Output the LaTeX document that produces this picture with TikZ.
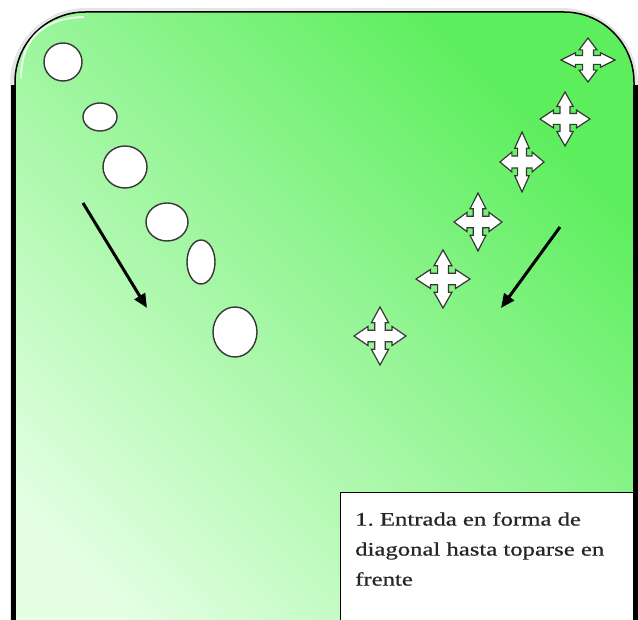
\documentclass[tikz,border=0pt]{standalone}
\usepackage{fontspec}
\setmainfont{Liberation Serif}
\newfontfamily\letra{Liberation Serif}[FakeBold=0.6]
\usetikzlibrary{arrows.meta}

\definecolor{verdeFuerte}{RGB}{92,238,92}
\definecolor{verdeClaro}{RGB}{228,255,228}
\definecolor{bordeGris}{RGB}{55,55,55}

\tikzset{
  jugador/.style={draw=bordeGris, line width=1.4pt, fill=white},
  flecha/.style={line width=3pt, -{Triangle[length=14pt,width=12pt]}},
  texto/.style={anchor=north west, inner sep=0pt, align=left, text=black!85,
    font=\letra\fontsize{19}{30}\selectfont\frenchspacing, xscale=1.3, transform shape},
  cruz/.pic={
    \draw[draw=bordeGris, line width=1.2pt, fill=white, line join=miter]
      (0.2,0.2) -- (0.2,0.46) -- (0.33,0.46) -- (0,1) -- (-0.33,0.46) -- (-0.2,0.46)
      -- (-0.2,0.2) -- (-0.46,0.2) -- (-0.46,0.33) -- (-1,0) -- (-0.46,-0.33) -- (-0.46,-0.2)
      -- (-0.2,-0.2) -- (-0.2,-0.46) -- (-0.33,-0.46) -- (0,-1) -- (0.33,-0.46) -- (0.2,-0.46)
      -- (0.2,-0.2) -- (0.46,-0.2) -- (0.46,-0.33) -- (1,0) -- (0.46,0.33) -- (0.46,0.2) -- cycle;
  }
}

\begin{document}
\begin{tikzpicture}[x=1pt, y=-1pt]

\useasboundingbox (0,0) rectangle (638,620);

% marco
\draw[line width=8pt, black!10, rounded corners=72pt] (14,700) -- (14,12) -- (634,12) -- (634,700);
\shade[top color=verdeFuerte, bottom color=verdeClaro, shading angle=-45, rounded corners=70pt]
  (15,700) -- (15,12) -- (634,12) -- (634,700) -- cycle;
\draw[line width=1.5pt, rounded corners=70pt] (15,700) -- (15,12) -- (634,12) -- (634,700);
\draw[white, line width=2pt, opacity=0.8] (21,78) .. controls (21,40) and (42,18) .. (84,17);

% cuadro de texto
\draw[fill=white, line width=1pt] (340,493) rectangle (633,640);
\node[texto] (nota) at (355,512) {1. Entrada en forma de\\diagonal hasta toparse en\\frente};

\draw[line width=5pt] (13.5,85) -- (13.5,620);
\draw[line width=5pt] (635.5,85) -- (635.5,620);

% jugadores
\draw[jugador] (63,62) ellipse (19 and 19);
\draw[jugador] (100,117) ellipse (17 and 14);
\draw[jugador] (125,167) ellipse (22 and 21);
\draw[jugador] (167,222) ellipse (21 and 19);
\draw[jugador] (201,262) ellipse (14 and 22);
\draw[jugador] (235,332) ellipse (22 and 25);

\pic[xscale=27, yscale=22] at (588,60) {cruz};
\pic[xscale=25, yscale=27] at (565,119) {cruz};
\pic[xscale=22, yscale=30] at (522,162) {cruz};
\pic[xscale=24, yscale=29] at (478,222) {cruz};
\pic[xscale=27, yscale=29] at (443,279) {cruz};
\pic[xscale=26, yscale=29] at (380,336) {cruz};

% flechas
\coordinate (izqA) at (83,203);
\coordinate (izqB) at (147,308);
\coordinate (derA) at (560,227);
\coordinate (derB) at (501,308);
\draw[flecha] (izqA) -- (izqB);
\draw[flecha] (derA) -- (derB);

\end{tikzpicture}
\end{document}
